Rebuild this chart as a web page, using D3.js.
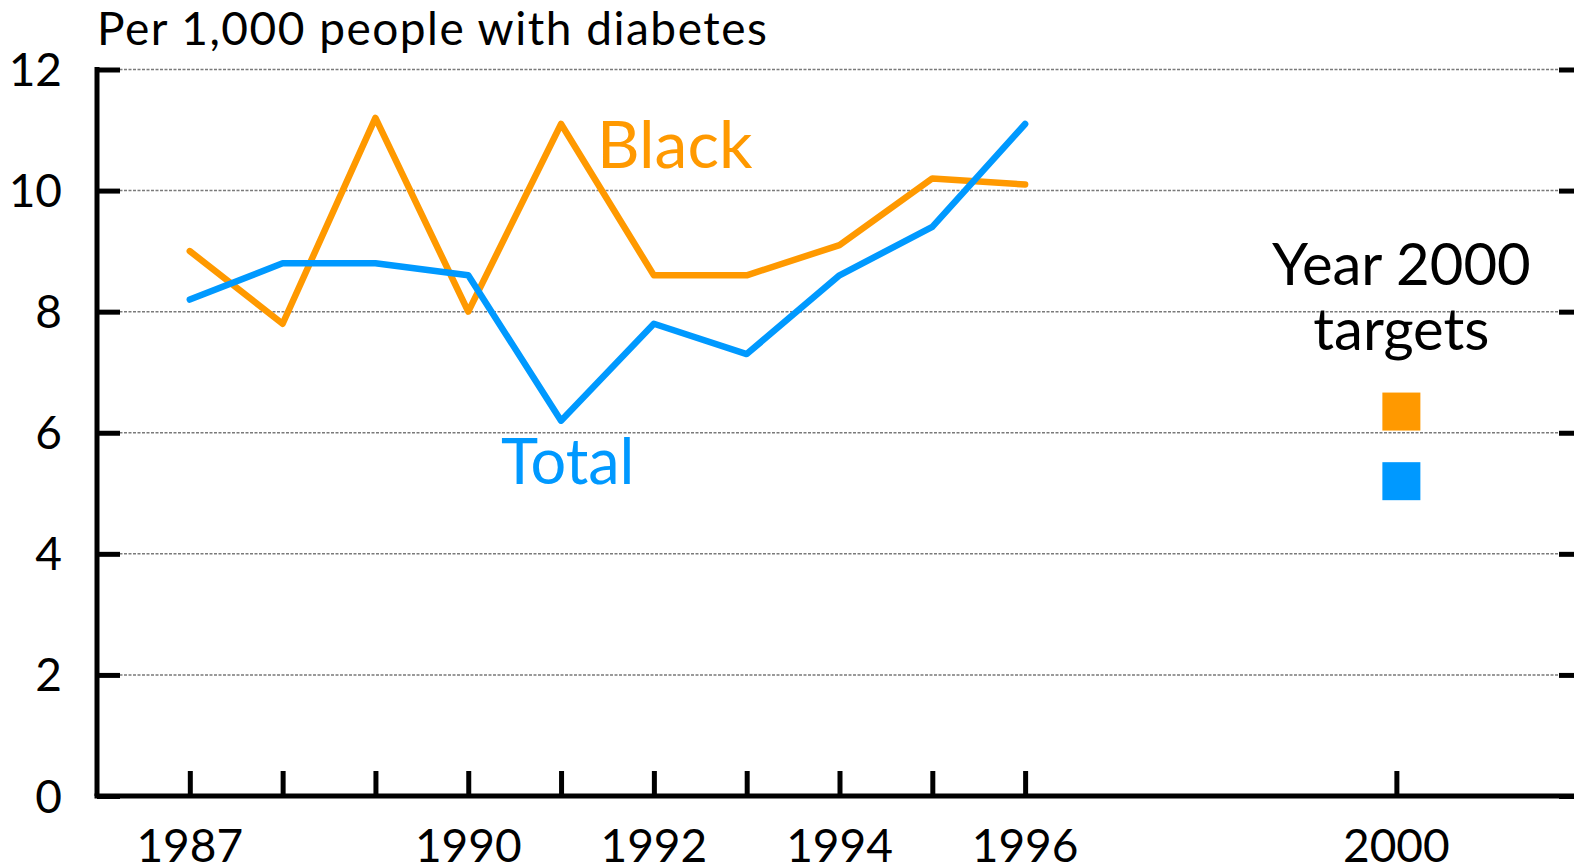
<!DOCTYPE html>
<html>
<head>
<meta charset="utf-8">
<script src="https://cdn.jsdelivr.net/npm/d3@7"></script>
<style>
  body { margin: 0; background: #fff; }
  text { font-family: Lato, "Open Sans", sans-serif; }
</style>
</head>
<body>
<div id="chart"></div>
<script>
// data
var years = [1987, 1988, 1989, 1990, 1991, 1992, 1993, 1994, 1995, 1996];
var black = [9.0, 7.8, 11.2, 8.0, 11.1, 8.6, 8.6, 9.1, 10.2, 10.1];
var total = [8.2, 8.8, 8.8, 8.6, 6.2, 7.8, 7.3, 8.6, 9.4, 11.1];
var targetYear = 2000;
var targets = [{name: "Black", value: 6.35}, {name: "Total", value: 5.2}];
var yTicks = [0, 2, 4, 6, 8, 10, 12];
var xTicks = [1987, 1988, 1989, 1990, 1991, 1992, 1993, 1994, 1995, 1996, 2000];
var xLabels = [1987, 1990, 1992, 1994, 1996, 2000];

var width = 1574, height = 867;
var orange = "#ff9900", blue = "#0099ff";

var svg = d3.select("#chart").append("svg")
    .attr("width", width)
    .attr("height", height);

var x = d3.scaleLinear().domain([1986, 2002]).range([97, 1582]);
var y = d3.scaleLinear().domain([0, 12]).range([796, 69.5]);

// gridlines
svg.append("g").selectAll("line")
    .data(yTicks.filter(function(d) { return d > 0; }))
    .enter().append("line")
    .attr("x1", x(1986)).attr("x2", x(2002))
    .attr("y1", function(d) { return y(d); })
    .attr("y2", function(d) { return y(d); })
    .attr("stroke", "#7a7a7a")
    .attr("stroke-width", 1.5)
    .attr("stroke-dasharray", "3,1.5");

// left axis, ticks point inward
var left = svg.append("g")
    .attr("transform", "translate(" + x(1986) + ",0)")
    .call(d3.axisRight(y).tickValues(yTicks).tickSize(23).tickFormat(""));
left.select(".domain").attr("stroke-width", 5).attr("d", "M0," + (y(12) - 2.5) + "V" + y(0));
left.selectAll(".tick line").attr("stroke-width", 5);

// right axis, ticks point inward
var right = svg.append("g")
    .attr("transform", "translate(" + x(2002) + ",0)")
    .call(d3.axisLeft(y).tickValues(yTicks).tickSize(23).tickFormat(""));
right.select(".domain").attr("stroke-width", 5).attr("d", "M0," + y(12) + "V" + y(0));
right.selectAll(".tick line").attr("stroke-width", 5);

// y tick labels
svg.append("g").selectAll("text")
    .data(yTicks)
    .enter().append("text")
    .attr("x", 62)
    .attr("y", function(d) { return y(d); })
    .attr("dy", "0.36em")
    .attr("text-anchor", "end")
    .style("font-size", "46px")
    .text(function(d) { return d; });

// bottom axis, ticks point up
var bottom = svg.append("g")
    .attr("transform", "translate(0," + y(0) + ")")
    .call(d3.axisTop(x).tickValues(xTicks).tickSize(25).tickFormat(""));
bottom.select(".domain").attr("stroke-width", 5).attr("d", "M" + (x(1986) - 2.5) + ",0H" + x(2002));
bottom.selectAll(".tick line").attr("stroke-width", 5);

svg.append("g").selectAll("text")
    .data(xLabels)
    .enter().append("text")
    .attr("x", function(d) { return x(d); })
    .attr("y", 862)
    .attr("text-anchor", "middle")
    .style("font-size", "46px")
    .text(function(d) { return d; });

// title
svg.append("text")
    .attr("x", 97)
    .attr("y", 45)
    .style("font-size", "46px")
    .style("letter-spacing", "1.5px")
    .text("Per 1,000 people with diabetes");

// lines
var line = d3.line()
    .x(function(d, i) { return x(years[i]); })
    .y(function(d) { return y(d); });

svg.append("path")
    .datum(black)
    .attr("fill", "none")
    .attr("stroke", orange)
    .attr("stroke-width", 6.5)
    .attr("stroke-linejoin", "round")
    .attr("stroke-linecap", "round")
    .attr("d", line);

svg.append("path")
    .datum(total)
    .attr("fill", "none")
    .attr("stroke", blue)
    .attr("stroke-width", 6.5)
    .attr("stroke-linejoin", "round")
    .attr("stroke-linecap", "round")
    .attr("d", line);

// series labels
svg.append("text")
    .attr("x", 597).attr("y", 168)
    .attr("fill", orange)
    .style("font-size", "66px")
    .text("Black");

svg.append("text")
    .attr("x", 501).attr("y", 484)
    .attr("fill", blue)
    .style("font-size", "63px")
    .text("Total");

// year 2000 targets
var tx = x(targetYear) + 5;
svg.append("text")
    .attr("x", tx).attr("y", 285)
    .attr("text-anchor", "middle")
    .style("font-size", "58px")
    .text("Year 2000");

svg.append("text")
    .attr("x", tx).attr("y", 350)
    .attr("text-anchor", "middle")
    .style("font-size", "58px")
    .text("targets");

var sq = 38;
svg.append("g").selectAll("rect")
    .data(targets)
    .enter().append("rect")
    .attr("x", tx - sq / 2)
    .attr("y", function(d) { return y(d.value) - sq / 2; })
    .attr("width", sq)
    .attr("height", sq)
    .attr("fill", function(d) { return d.name === "Black" ? orange : blue; });
</script>
</body>
</html>
